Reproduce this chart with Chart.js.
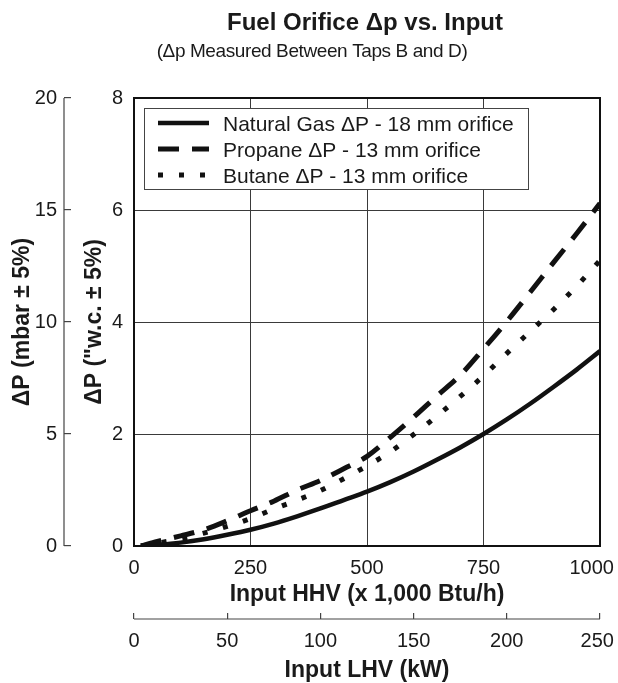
<!DOCTYPE html>
<html>
<head>
<meta charset="utf-8">
<title>Fuel Orifice Δp vs. Input</title>
<script src="https://cdn.jsdelivr.net/npm/chart.js@4.4.1/dist/chart.umd.min.js"></script>
<style>
    html, body { margin: 0; padding: 0; background: #fff; }
    #wrap { width: 618px; height: 683px; }
</style>
</head>
<body>
<div id="wrap"><canvas id="orificeChart" width="618" height="683"></canvas></div>
<script>
// Data (Input HHV in 1,000 Btu/h, Δp in "w.c.)
const inputHHV = [15, 50, 100, 150, 200, 250, 300, 350, 400, 450, 500,
                  550, 600, 650, 700, 750, 800, 850, 900, 950, 1000];
const naturalGasDp = [0, 0.02, 0.06, 0.12, 0.20, 0.29, 0.40, 0.53, 0.67, 0.82, 0.97,
                      1.14, 1.33, 1.54, 1.76, 2.0, 2.26, 2.54, 2.84, 3.15, 3.48];
const propaneDp = [0, 0.08, 0.18, 0.29, 0.45, 0.63, 0.80, 1.0, 1.17, 1.38, 1.60,
                   1.94, 2.30, 2.68, 3.05, 3.52, 4.01, 4.53, 5.06, 5.58, 6.12];
const butaneDp = [0, 0.05, 0.13, 0.23, 0.35, 0.49, 0.66, 0.82, 0.99, 1.20, 1.43,
                  1.68, 1.99, 2.32, 2.67, 3.04, 3.44, 3.83, 4.22, 4.64, 5.1];

const seriesLabels = [
    'Natural Gas \u0394P - 18 mm orifice',
    'Propane \u0394P - 13 mm orifice',
    'Butane \u0394P - 13 mm orifice'
];

// Tick labels
const hhvTicks = [0, 250, 500, 750, 1000];
const lhvTicks = [0, 50, 100, 150, 200, 250];
const wcTicks = [0, 2, 4, 6, 8];
const mbarTicks = [0, 5, 10, 15, 20];

const FONT = '"Liberation Sans", Arial, Helvetica, sans-serif';
const INK = '#1a1a1a';
const GRID = '#3a3a3a';

function toPoints(ys) {
    return inputHHV.map((x, i) => ({ x: x, y: ys[i] }));
}

function fixedTicks(list) {
    return (scale) => { scale.ticks = list.map(v => ({ value: v })); };
}

// plain numbers; the last label is nudged left so it stays on the page
function edgeLabel(list, pad) {
    return (v) => v === list[list.length - 1] ? String(v) + pad : String(v);
}

// Draws titles, frame, the two extra axis lines and the legend box
const decorPlugin = {
    id: 'decor',
    beforeDraw(chart) {
        const ctx = chart.ctx;
        ctx.save();
        ctx.fillStyle = '#fff';
        ctx.fillRect(0, 0, chart.width, chart.height);
        ctx.restore();
    },
    afterDraw(chart) {
        const ctx = chart.ctx;
        const area = chart.chartArea;
        const y2 = chart.scales.y2;
        const x2 = chart.scales.x2;
        ctx.save();

        // plot frame
        ctx.strokeStyle = '#111';
        ctx.lineWidth = 2;
        ctx.strokeRect(area.left, area.top, area.right - area.left, area.bottom - area.top);

        // mbar axis line (ticks point inward)
        ctx.strokeStyle = '#444';
        ctx.lineWidth = 1.2;
        ctx.beginPath();
        ctx.moveTo(y2.right - 7, y2.getPixelForValue(20));
        ctx.lineTo(y2.right - 7, y2.getPixelForValue(0));
        ctx.stroke();

        // kW axis line
        ctx.beginPath();
        ctx.moveTo(x2.getPixelForValue(0), x2.top + 6);
        ctx.lineTo(x2.getPixelForValue(250), x2.top + 6);
        ctx.stroke();

        // titles
        ctx.fillStyle = INK;
        ctx.textAlign = 'center';
        ctx.textBaseline = 'alphabetic';
        ctx.font = 'bold 24px ' + FONT;
        ctx.fillText('Fuel Orifice \u0394p vs. Input', 365, 30);
        ctx.font = '19px ' + FONT;
        ctx.letterSpacing = '-0.4px';
        ctx.fillText('(\u0394p Measured Between Taps B and D)', 312, 57);
        ctx.letterSpacing = '0px';

        // legend
        const box = { left: 144, top: 108, right: 528, bottom: 189 };
        ctx.fillStyle = '#fff';
        ctx.fillRect(box.left, box.top, box.right - box.left, box.bottom - box.top);
        ctx.strokeStyle = '#444';
        ctx.lineWidth = 1;
        ctx.strokeRect(box.left + 0.5, box.top + 0.5, box.right - box.left, box.bottom - box.top);

        const rows = [131, 157, 183];
        chart.data.datasets.forEach((ds, i) => {
            const yLine = rows[i] - 8;
            ctx.strokeStyle = ds.borderColor;
            ctx.lineWidth = ds.borderWidth;
            ctx.lineCap = 'butt';
            ctx.setLineDash(ds.borderDash || []);
            ctx.beginPath();
            ctx.moveTo(158, yLine);
            ctx.lineTo(209, yLine);
            ctx.stroke();
            ctx.setLineDash([]);
            ctx.fillStyle = INK;
            ctx.textAlign = 'left';
            ctx.font = '21px ' + FONT;
            ctx.fillText(ds.label, 223, rows[i]);
        });
        ctx.restore();
    }
};

const ctx = document.getElementById('orificeChart').getContext('2d');
const orificeChart = new Chart(ctx, {
    type: 'line',
    data: {
        datasets: [{
            label: seriesLabels[0],
            data: toPoints(naturalGasDp),
            borderColor: '#111',
            borderWidth: 4.5,
            pointRadius: 0,
            cubicInterpolationMode: 'monotone'
        }, {
            label: seriesLabels[1],
            data: toPoints(propaneDp),
            borderColor: '#111',
            borderWidth: 5,
            borderDash: [21, 13],
            pointRadius: 0,
            cubicInterpolationMode: 'monotone'
        }, {
            label: seriesLabels[2],
            data: toPoints(butaneDp),
            borderColor: '#111',
            borderWidth: 5,
            borderDash: [5, 16],
            pointRadius: 0,
            cubicInterpolationMode: 'monotone'
        }]
    },
    options: {
        responsive: false,
        animation: false,
        devicePixelRatio: 1,
        layout: { padding: { top: 98, right: 18, left: 0, bottom: 0 } },
        plugins: {
            legend: { display: false },
            tooltip: { enabled: false }
        },
        scales: {
            x: {
                type: 'linear',
                position: 'bottom',
                min: 0,
                max: 1000,
                afterBuildTicks: fixedTicks(hhvTicks),
                grid: { color: GRID, lineWidth: 1, drawTicks: false },
                border: { color: '#111', width: 2 },
                ticks: {
                    color: INK, font: { family: FONT, size: 20 }, padding: 10,
                    maxRotation: 0, autoSkip: false,
                    callback: edgeLabel(hhvTicks, '   ')
                },
                title: {
                    display: true,
                    text: 'Input HHV (x 1,000 Btu/h)',
                    color: INK,
                    font: { family: FONT, size: 23, weight: 'bold' },
                    padding: { top: 0, bottom: 5 }
                },
                afterFit: (s) => { s.height = 67; s.paddingLeft = 0; s.paddingRight = 0; }
            },
            x2: {
                type: 'linear',
                position: 'bottom',
                weight: 1,
                min: 0,
                max: 250,
                afterBuildTicks: fixedTicks(lhvTicks),
                grid: { drawOnChartArea: false, drawTicks: true, tickLength: 6, color: '#444', lineWidth: 1.2 },
                border: { display: false },
                ticks: {
                    color: INK, font: { family: FONT, size: 20 }, padding: 10,
                    maxRotation: 0, autoSkip: false,
                    callback: edgeLabel(lhvTicks, ' ')
                },
                title: {
                    display: true,
                    text: 'Input LHV (kW)',
                    color: INK,
                    font: { family: FONT, size: 23, weight: 'bold', lineHeight: 1.1 },
                    padding: { top: 0, bottom: 0 }
                },
                afterFit: (s) => { s.height = 70; s.paddingLeft = 0; s.paddingRight = 0; }
            },
            y: {
                type: 'linear',
                position: 'left',
                min: 0,
                max: 8,
                afterBuildTicks: fixedTicks(wcTicks),
                grid: { color: GRID, lineWidth: 1, drawTicks: false },
                border: { color: '#111', width: 2 },
                ticks: { color: INK, font: { family: FONT, size: 20 }, padding: 11 },
                title: {
                    display: true,
                    text: '\u0394P ("w.c. \u00b1 5%)',
                    color: INK,
                    font: { family: FONT, size: 23, weight: 'bold' },
                    padding: { top: 10, bottom: 0 }
                },
                afterFit: (s) => { s.width = 63; }
            },
            y2: {
                type: 'linear',
                position: 'left',
                weight: 1,
                min: 0,
                max: 20,
                afterBuildTicks: fixedTicks(mbarTicks),
                grid: { drawOnChartArea: false, drawTicks: true, tickLength: 7, color: '#444', lineWidth: 1.2 },
                border: { display: false },
                ticks: { color: INK, font: { family: FONT, size: 20 }, padding: 7 },
                title: {
                    display: true,
                    text: '\u0394P (mbar \u00b1 5%)',
                    color: INK,
                    font: { family: FONT, size: 23, weight: 'bold' },
                    padding: { top: 8.5, bottom: 0 }
                },
                afterFit: (s) => { s.width = 71; }
            }
        }
    },
    plugins: [decorPlugin]
});
</script>
</body>
</html>
